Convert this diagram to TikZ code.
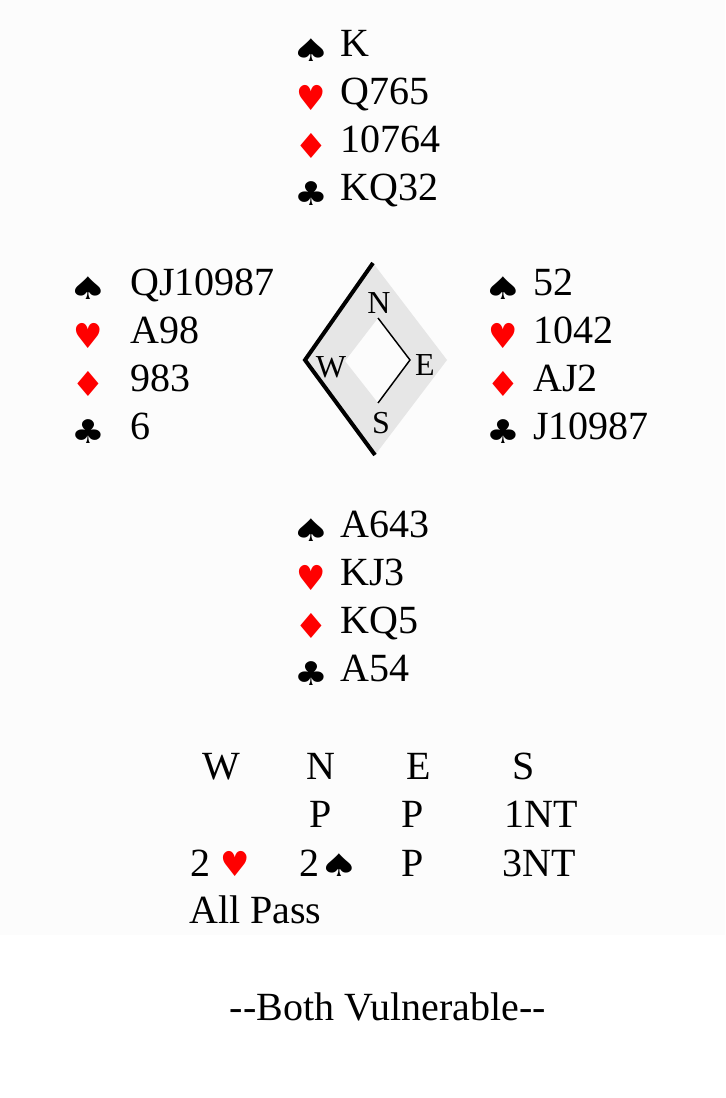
\documentclass[tikz,border=0pt]{standalone}
\usepackage{fontspec}
\setmainfont{Liberation Serif}
\newfontfamily\suitfont[Scale=0.82]{DejaVu Sans}
\definecolor{suitred}{RGB}{255,0,0}
\definecolor{compassgrey}{RGB}{230,230,230}
\newcommand\spd{{\suitfont\scalebox{1.35}[0.95]{♠}}}
\newcommand\hrt{{\suitfont\scalebox{1.0}[1.05]{♥}}}
\newcommand\dmd{{\suitfont\scalebox{1.15}[1.05]{♦}}}
\newcommand\clb{{\suitfont\scalebox{1.15}[1.0]{♣}}}

\begin{document}
\begin{tikzpicture}[x=0.75pt, y=-0.75pt,
    every node/.style={inner sep=0pt},
    card/.style={anchor=base west, font=\fontsize{30}{36}\selectfont},
    suit/.style={font=\fontsize{30}{36}\selectfont},
    compass/.style={anchor=base, font=\fontsize{24}{28}\selectfont}]
    \useasboundingbox (0,0) rectangle (725,1098);
    \fill[black!1] (0,0) rectangle (725,935);

    % hands
    \foreach \h/\tx/\sx/\by/\cards in {N/340/311/57/{K,Q765,10764,KQ32},
        W/130/88/295/{QJ10987,A98,983,6},
        E/533/503/295/{52,1042,AJ2,J10987},
        S/340/311/537/{A643,KJ3,KQ5,A54}}{
      \foreach \s/\col [count=\i from 0] in {\spd/black,\hrt/suitred,\dmd/suitred,\clb/black}
        \node[suit, text=\col] (\h s\i) at (\sx,\by+\i*48-7) {\s};
      \foreach \c [count=\i from 0] in \cards
        \node[card] (\h c\i) at (\tx,\by+\i*48) {\c};
    }

    % compass
    \coordinate (dt) at (373,263);
    \coordinate (dl) at (305,360);
    \coordinate (db) at (375,455);
    \coordinate (dr) at (447,360);
    \coordinate (it) at (378,318);
    \coordinate (il) at (345,361);
    \coordinate (ib) at (378,403);
    \coordinate (ir) at (410,360);
    \fill[compassgrey, even odd rule] (dt) -- (dr) -- (db) -- (dl) -- cycle
      (it) -- (ir) -- (ib) -- (il) -- cycle;
    \draw[line width=3pt] (dt) -- (dl) -- (db);
    \draw[line width=1.1pt] (it) -- (ir) -- (ib);
    \node[compass] (cN) at (379,313) {N};
    \node[compass] (cW) at (331,377) {W};
    \node[compass] (cE) at (425,375) {E};
    \node[compass] (cS) at (381,433) {S};

    % bidding
    \foreach \t/\x/\y [count=\i] in {W/202/779, N/306/779, E/406/779, S/512/779,
        P/309/827, P/401/827, 1NT/504/827,
        2 \textcolor{suitred}{\hrt}/190/876, 2\spd/299/876,
        P/401/876, 3NT/502/876, All Pass/189/923}
      \node[card] (b\i) at (\x,\y) {\t};

    \node[card, anchor=base] (vul) at (388,1020) {-{}-Both Vulnerable-{}-};
\end{tikzpicture}
\end{document}
